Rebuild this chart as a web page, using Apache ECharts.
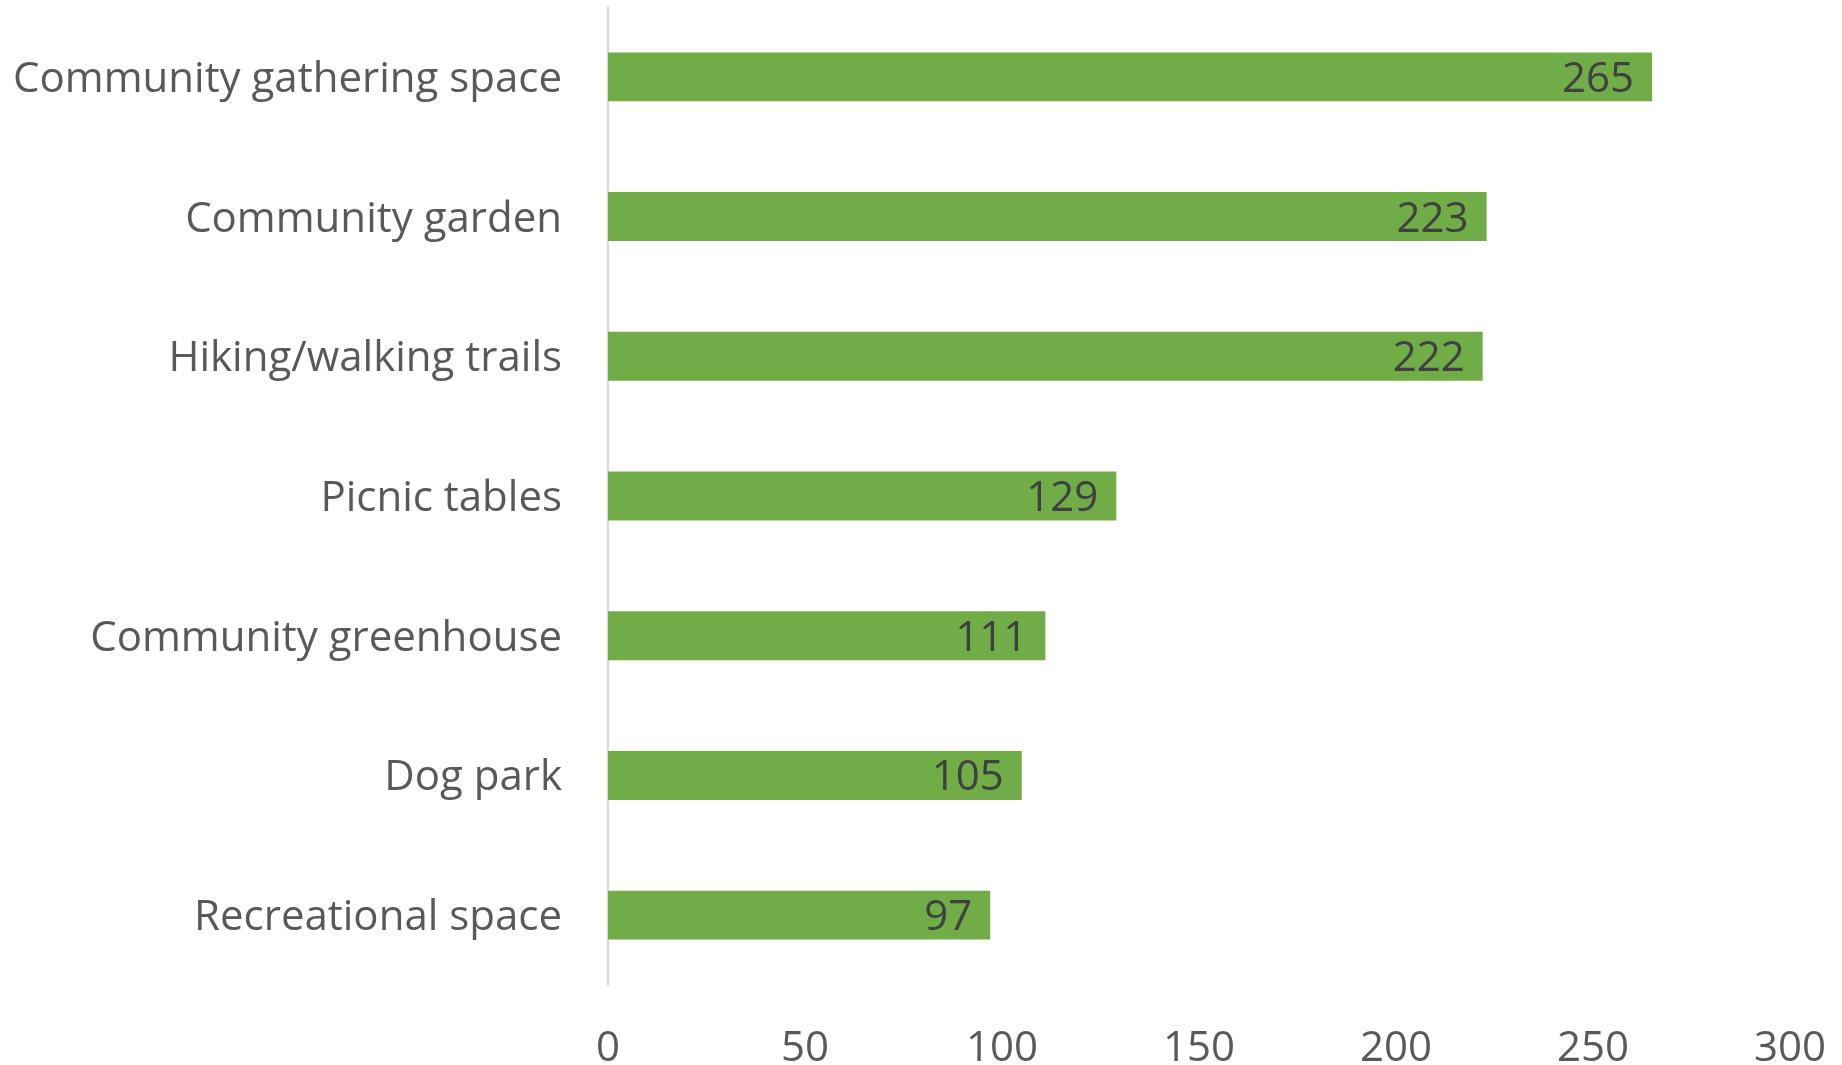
<!DOCTYPE html>
<html>
<head>
<meta charset="utf-8">
<script src="https://cdn.jsdelivr.net/npm/echarts@6/dist/echarts.min.js"></script>
<style>
html,body{margin:0;padding:0;background:#fff;}
#chart{width:1842px;height:1065px;}
</style>
</head>
<body>
<div id="chart"></div>
<script>
var categories = ["Community gathering space","Community garden","Hiking/walking trails","Picnic tables","Community greenhouse","Dog park","Recreational space"];
var values = [265,223,222,129,111,105,97];
var xTicks = [0,50,100,150,200,250,300];

var FONT = "'Open Sans', 'Noto Sans', sans-serif";
var chart = echarts.init(document.getElementById('chart'), null, {renderer:'canvas'});
chart.setOption({
  animation:false,
  backgroundColor:'#ffffff',
  grid:{left:608,right:52,top:7,bottom:80,containLabel:false,outerBoundsMode:'none'},
  xAxis:{
    type:'value',min:xTicks[0],max:xTicks[xTicks.length-1],interval:50,
    axisLine:{show:false},axisTick:{show:false},splitLine:{show:false},
    axisLabel:{color:'#595959',fontSize:42,fontFamily:FONT,margin:43}
  },
  yAxis:{
    type:'category',data:categories,inverse:true,
    axisLine:{show:true,lineStyle:{color:'#D9D9D9',width:2}},
    axisTick:{show:false},
    axisLabel:{margin:46,formatter:function(v){return '{a|'+v+'}';},
      rich:{a:{color:'#595959',fontSize:42,fontFamily:FONT,padding:[6,0,0,0]}}}
  },
  series:[{
    type:'bar',data:values,barWidth:'35%',
    itemStyle:{color:'#70AD47'},
    label:{show:true,position:'insideRight',distance:18,offset:[0,3],color:'#404040',fontSize:42,fontFamily:FONT}
  }]
});
</script>
</body>
</html>
